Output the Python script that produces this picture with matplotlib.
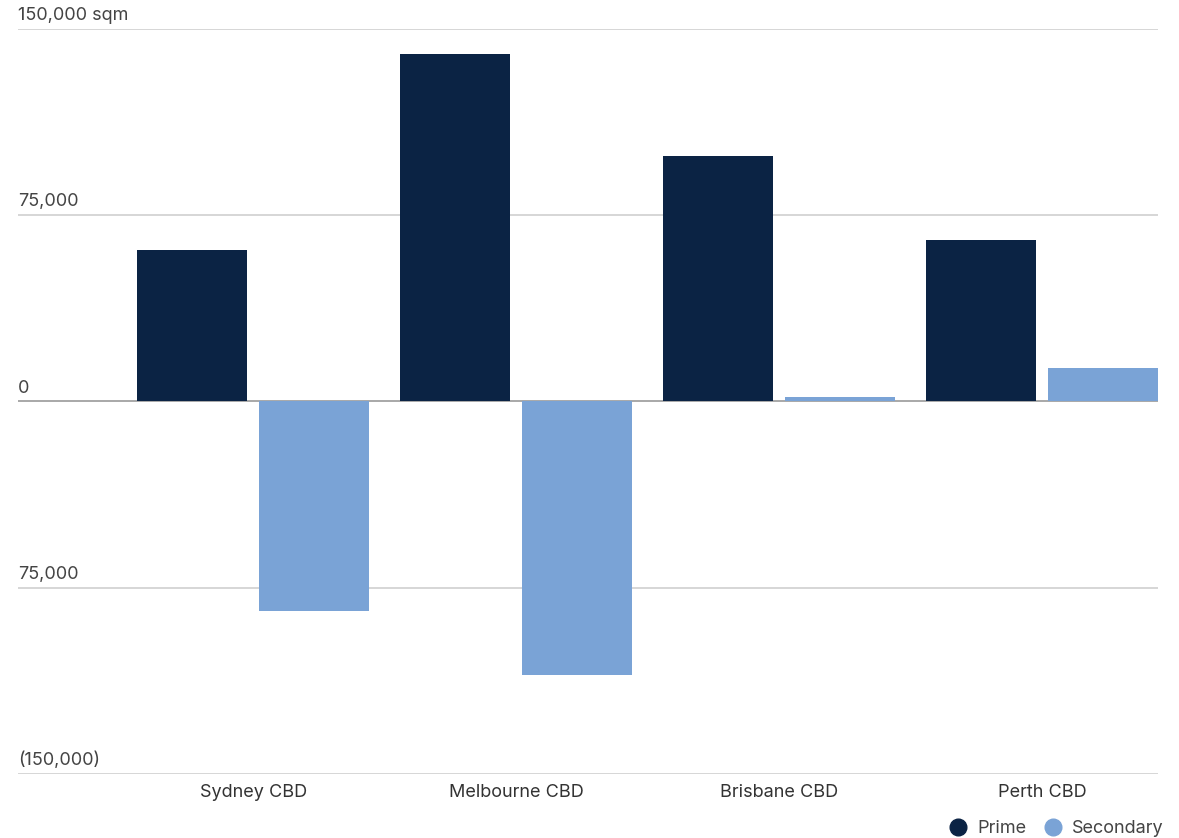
import numpy as np
import matplotlib.pyplot as plt
from matplotlib.lines import Line2D

plt.rcParams['font.family'] = ['Inter', 'DejaVu Sans']

categories = ["Sydney CBD", "Melbourne CBD", "Brisbane CBD", "Perth CBD"]
prime = [61000, 140000, 99000, 65000]
secondary = [-84500, -110000, 1900, 13300]
yticks = [-150000, -75000, 0, 75000, 150000]
ytick_labels = ["(150,000)", "75,000", "0", "75,000", "150,000 sqm"]

prime_color = "#0b2344"
secondary_color = "#7aa3d6"

W, H = 1179, 838
fig = plt.figure(figsize=(W / 100, H / 100), dpi=100)
ax = fig.add_axes([18 / W, (H - 774) / H, (1158 - 18) / W, (774 - 29) / H])

x = np.arange(len(categories))
width = 0.418
off = 0.232
ax.bar(x - off, prime, width, color=prime_color, zorder=3)
ax.bar(x + off, secondary, width, color=secondary_color, zorder=3)

ax.set_xlim(-0.894, 3.44)
ax.set_ylim(-150000, 150000)

for v, lab in zip(yticks, ytick_labels):
    ax.axhline(v, color="#9a9a9a" if v == 0 else "#cfcfcf", lw=1.2, zorder=2)
    ax.text(0.0, v + 2000, lab, transform=ax.get_yaxis_transform(),
            ha="left", va="bottom", fontsize=13, color="#444444")

for s in ax.spines.values():
    s.set_visible(False)
ax.set_yticks([])
ax.set_xticks(x)
ax.set_xticklabels(categories, fontsize=13, color="#333333")
ax.tick_params(axis="x", length=0, pad=7)

handles = [
    Line2D([], [], marker="o", ls="", color=prime_color, markersize=12),
    Line2D([], [], marker="o", ls="", color=secondary_color, markersize=12),
]
fig.legend(handles, ["Prime", "Secondary"], loc="lower right",
           bbox_to_anchor=(1171 / W, -0.008), ncol=2, frameon=False,
           fontsize=13, handletextpad=0.05, columnspacing=0.5,
           labelcolor="#444444", borderaxespad=0.0)

fig.savefig("out.png", dpi=100)
